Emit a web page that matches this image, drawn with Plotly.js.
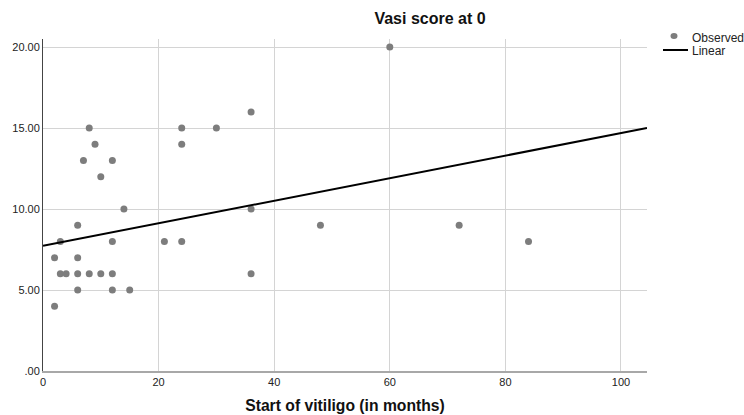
<!DOCTYPE html>
<html>
<head>
<meta charset="utf-8">
<script src="https://cdn.plot.ly/plotly-3.0.1.min.js"></script>
<style>html,body{margin:0;padding:0;background:#fff}#chart{width:744px;height:415px}</style>
</head>
<body>
<div id="chart"></div>
<script>
// Observed data (Start of vitiligo in months, Vasi score at 0)
const startMonths = [8, 9, 7, 12, 10, 14, 6, 3, 12, 21, 24, 24, 24, 2, 6, 3, 4, 6, 8, 10, 12, 6, 12, 15, 2, 30, 36, 36, 48, 36, 60, 72, 84];
const vasiScore   = [15, 14, 13, 13, 12, 10, 9, 8, 8, 8, 8, 15, 14, 7, 7, 6, 6, 6, 6, 6, 6, 5, 5, 5, 4, 15, 16, 10, 9, 6, 20, 9, 8];
// Linear fit coefficients
const fitIntercept = 7.73;
const fitSlope = 0.0696;
const xRange = [0, 104.5];
const xTicks = [0, 20, 40, 60, 80, 100];
const yTicks = [0, 5, 10, 15, 20];
const yTickText = ['.00', '5.00', '10.00', '15.00', '20.00'];

const fitX = xRange.slice();
const fitY = fitX.map(x => fitIntercept + fitSlope * x);

const FONT = 'Liberation Sans, Arial, sans-serif';

const traces = [
  {x: startMonths, y: vasiScore, mode: 'markers', type: 'scatter', name: 'Observed',
   marker: {color: '#7d7d7d', size: 7}, cliponaxis: false, showlegend: false},
  {x: fitX, y: fitY, mode: 'lines', type: 'scatter', name: 'Linear',
   line: {color: '#000', width: 2}, showlegend: false}
];

// plot area geometry in px for manual legend
const L = 43, R = 647, T = 39, B = 371;
const px = v => (v - L) / (R - L);
const py = v => (B - v) / (B - T);

const layout = {
  width: 744, height: 415,
  margin: {l: L, r: 744 - R, t: T, b: 415 - B},
  paper_bgcolor: '#fff', plot_bgcolor: '#fff',
  font: {family: FONT, size: 11, color: '#222'},
  title: {text: 'Vasi score at 0', font: {family: FONT, size: 16, color: '#111', weight: 'bold'},
          xref: 'container', x: 430 / 744, xanchor: 'center', yref: 'container', y: 1 - 18 / 415, yanchor: 'middle'},
  xaxis: {range: xRange, tickvals: xTicks, ticktext: xTicks.map(String), showgrid: true, gridcolor: '#d4d4d4', gridwidth: 1,
          zeroline: false, showline: true, linecolor: '#a8a8a8', linewidth: 2, ticks: '', fixedrange: true,
          tickfont: {size: 11, color: '#222'},
          title: {text: 'Start of vitiligo (in months)', standoff: 13,
                  font: {family: FONT, size: 15.7, color: '#111', weight: 'bold'}}},
  yaxis: {range: [0, 20.5], tickvals: yTicks, ticktext: yTickText, showgrid: true, gridcolor: '#d4d4d4', gridwidth: 1,
          zeroline: false, showline: true, linecolor: '#444', linewidth: 1, ticks: '', fixedrange: true,
          tickfont: {size: 11, color: '#222'}},
  showlegend: false,
  shapes: [
    {type: 'circle', xref: 'paper', yref: 'paper', xsizemode: 'pixel', ysizemode: 'pixel',
     xanchor: px(674), yanchor: py(36), x0: -3.5, x1: 3.5, y0: -3, y1: 3,
     fillcolor: '#7d7d7d', line: {width: 0}},
    {type: 'line', xref: 'paper', yref: 'paper', x0: px(663), x1: px(688), y0: py(50), y1: py(50),
     line: {color: '#000', width: 2}}
  ],
  annotations: [
    {text: 'Observed', xref: 'paper', yref: 'paper', x: px(690), y: py(38), xanchor: 'left', yanchor: 'middle',
     showarrow: false, font: {size: 12, color: '#222'}},
    {text: 'Linear', xref: 'paper', yref: 'paper', x: px(690), y: py(51), xanchor: 'left', yanchor: 'middle',
     showarrow: false, font: {size: 12, color: '#222'}}
  ]
};

Plotly.newPlot('chart', traces, layout, {displayModeBar: false, staticPlot: true});
</script>
</body>
</html>
